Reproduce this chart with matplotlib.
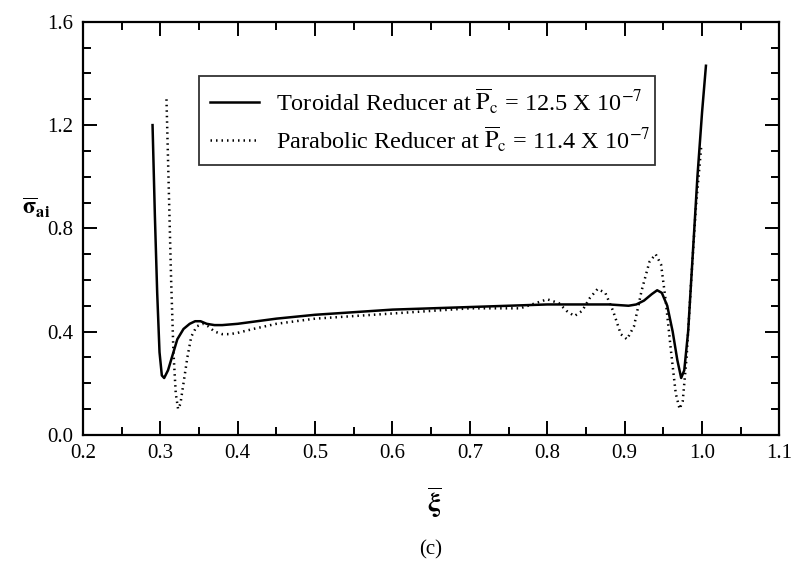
import numpy as np
import matplotlib
matplotlib.use('Agg')
import matplotlib.pyplot as plt

plt.rcParams['font.family'] = ['Liberation Serif', 'DejaVu Serif']
plt.rcParams['mathtext.fontset'] = 'stix'

# Toroidal reducer (solid)
tor_x = [0.290, 0.293, 0.296, 0.299, 0.302, 0.305, 0.310, 0.316, 0.322, 0.330,
         0.338, 0.345, 0.352, 0.360, 0.370, 0.380, 0.40, 0.45, 0.50, 0.55,
         0.60, 0.65, 0.70, 0.75, 0.80, 0.84, 0.88, 0.905, 0.915, 0.925,
         0.935, 0.942, 0.948, 0.955, 0.962, 0.968, 0.973, 0.977, 0.982, 0.988,
         0.994, 1.000, 1.005]
tor_y = [1.20, 0.85, 0.55, 0.32, 0.23, 0.22, 0.25, 0.31, 0.37, 0.41,
         0.43, 0.44, 0.44, 0.43, 0.425, 0.425, 0.43, 0.45, 0.465, 0.475,
         0.485, 0.49, 0.495, 0.50, 0.505, 0.505, 0.505, 0.50, 0.505, 0.52,
         0.545, 0.56, 0.55, 0.50, 0.40, 0.29, 0.22, 0.25, 0.40, 0.70,
         1.00, 1.25, 1.43]

# Parabolic reducer (dotted)
par_x = [0.308, 0.311, 0.314, 0.317, 0.320, 0.323, 0.326, 0.330, 0.335, 0.340,
         0.347, 0.355, 0.362, 0.370, 0.380, 0.390, 0.40, 0.42, 0.45, 0.50,
         0.55, 0.60, 0.65, 0.70, 0.74, 0.765, 0.785, 0.80, 0.815, 0.825,
         0.835, 0.845, 0.855, 0.865, 0.875, 0.885, 0.895, 0.903, 0.912, 0.922,
         0.932, 0.940, 0.947, 0.953, 0.960, 0.966, 0.971, 0.975, 0.980, 0.986,
         0.992, 0.999]
par_y = [1.30, 0.95, 0.60, 0.32, 0.16, 0.10, 0.12, 0.20, 0.30, 0.38,
         0.42, 0.43, 0.42, 0.40, 0.39, 0.39, 0.395, 0.41, 0.43, 0.45,
         0.46, 0.47, 0.48, 0.49, 0.49, 0.49, 0.51, 0.525, 0.51, 0.48,
         0.46, 0.48, 0.53, 0.565, 0.55, 0.48, 0.39, 0.37, 0.42, 0.56,
         0.67, 0.70, 0.66, 0.52, 0.32, 0.16, 0.10, 0.13, 0.30, 0.60,
         0.88, 1.12]

tor_label = r'Toroidal Reducer at $\overline{\mathrm{P}}_{\mathrm{c}}$ = 12.5 X 10$^{\mathrm{-7}}$'
par_label = r'Parabolic Reducer at $\overline{\mathrm{P}}_{\mathrm{c}}$ = 11.4 X 10$^{\mathrm{-7}}$'

fig = plt.figure(figsize=(7.97, 5.61), dpi=100)
ax = fig.add_axes([0.104, 0.225, 0.874, 0.736])

ax.plot(tor_x, tor_y, color='black', lw=1.8, ls='-', label=tor_label)
ax.plot(par_x, par_y, color='black', lw=1.8, ls=(0, (0.6, 1.6)), label=par_label)

ax.set_xlim(0.2, 1.1)
ax.set_ylim(0.0, 1.6)
ax.set_xticks(np.arange(0.2, 1.11, 0.1))
ax.set_xticks(np.arange(0.25, 1.1, 0.1), minor=True)
ax.set_yticks(np.arange(0.0, 1.61, 0.4))
ax.set_yticks(np.arange(0.1, 1.6, 0.1), minor=True)
ax.set_xticklabels([f'{v:.1f}' for v in np.arange(0.2, 1.11, 0.1)])
ax.set_yticklabels([f'{v:.1f}' for v in np.arange(0.0, 1.61, 0.4)])
ax.tick_params(which='both', direction='in', top=True, right=True, labelsize=15, width=1.4)
ax.tick_params(which='major', length=10, pad=7)
ax.tick_params(which='minor', length=6)
for s in ax.spines.values():
    s.set_linewidth(1.6)

leg = ax.legend(loc='upper left', bbox_to_anchor=(0.167, 0.67, 0.655, 0.2), mode='expand',
                fontsize=17.5, frameon=True, fancybox=False, handlelength=2.0,
                borderpad=0.45, labelspacing=0.35, handletextpad=0.7, borderaxespad=0)
leg.get_frame().set_edgecolor('black')
leg.get_frame().set_linewidth(1.3)

fig.text(0.045, 0.63, r'$\overline{\mathbf{\sigma}}_{\mathbf{ai}}$', fontsize=17, ha='center', va='center')
fig.text(0.545, 0.105, r'$\overline{\mathbf{\xi}}$', fontsize=20, ha='center', va='center')
fig.text(0.54, 0.02, '(c)', fontsize=15, ha='center', va='center')

plt.savefig('out.png', dpi=100)
plt.close()
